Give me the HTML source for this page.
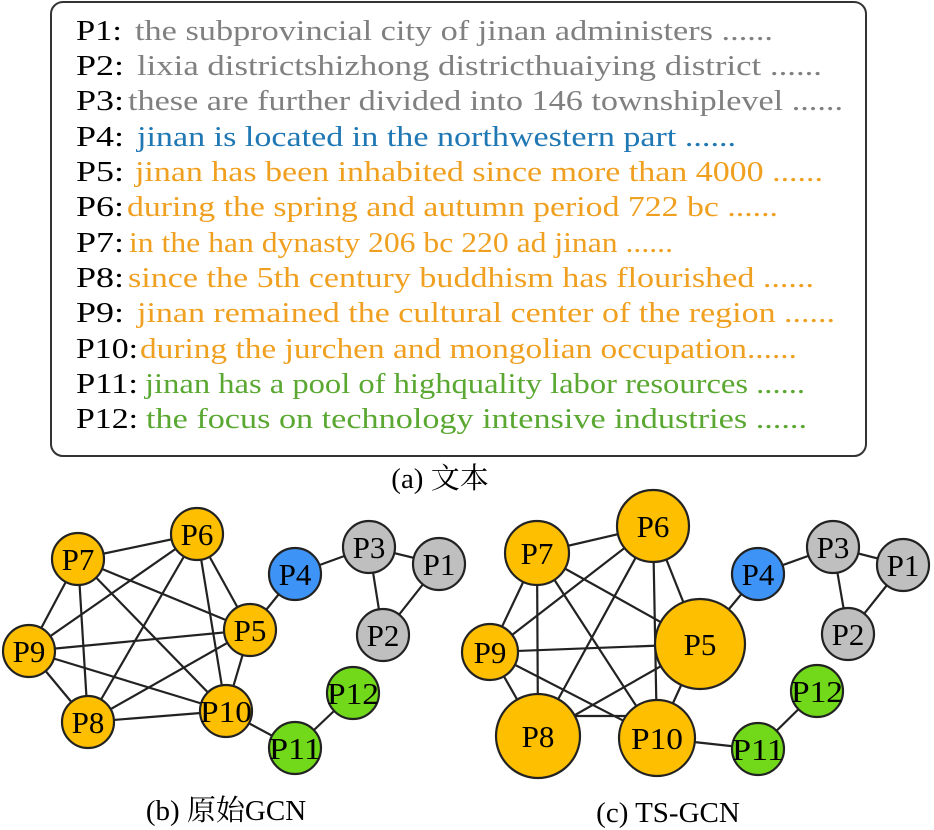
<!DOCTYPE html>
<html><head><meta charset="utf-8"><style>
html,body{margin:0;padding:0;background:#fff;}
svg{display:block;font-family:"Liberation Serif","Noto Serif CJK SC",serif;}
</style></head><body>
<svg width="934" height="830" viewBox="0 0 934 830" xmlns="http://www.w3.org/2000/svg">
<rect x="51" y="2" width="815" height="454" rx="12" ry="12" fill="#fff" stroke="#333" stroke-width="2"/>
<g font-size="29">
<text x="76" y="40" textLength="46" lengthAdjust="spacingAndGlyphs">P1:</text><text x="135" y="40" fill="#808080" textLength="638" lengthAdjust="spacingAndGlyphs">the subprovincial city of jinan administers ......</text>
<text x="76" y="75" textLength="48" lengthAdjust="spacingAndGlyphs">P2:</text><text x="137" y="75" fill="#808080" textLength="685" lengthAdjust="spacingAndGlyphs">lixia districtshizhong districthuaiying district ......</text>
<text x="76" y="110" textLength="48" lengthAdjust="spacingAndGlyphs">P3:</text><text x="128" y="110" fill="#808080" textLength="715" lengthAdjust="spacingAndGlyphs">these are further divided into 146 townshiplevel ......</text>
<text x="76" y="146" textLength="48" lengthAdjust="spacingAndGlyphs">P4:</text><text x="137" y="146" fill="#1f77b4" textLength="599" lengthAdjust="spacingAndGlyphs">jinan is located in the northwestern part ......</text>
<text x="76" y="181" textLength="48" lengthAdjust="spacingAndGlyphs">P5:</text><text x="135" y="181" fill="#f0a020" textLength="688" lengthAdjust="spacingAndGlyphs">jinan has been inhabited since more than 4000 ......</text>
<text x="76" y="216" textLength="48" lengthAdjust="spacingAndGlyphs">P6:</text><text x="127" y="216" fill="#f0a020" textLength="651" lengthAdjust="spacingAndGlyphs">during the spring and autumn period 722 bc ......</text>
<text x="76" y="252" textLength="48" lengthAdjust="spacingAndGlyphs">P7:</text><text x="129" y="252" fill="#f0a020" textLength="544" lengthAdjust="spacingAndGlyphs">in the han dynasty 206 bc 220 ad jinan ......</text>
<text x="76" y="287" textLength="48" lengthAdjust="spacingAndGlyphs">P8:</text><text x="128" y="287" fill="#f0a020" textLength="686" lengthAdjust="spacingAndGlyphs">since the 5th century buddhism has flourished ......</text>
<text x="76" y="322" textLength="48" lengthAdjust="spacingAndGlyphs">P9:</text><text x="137" y="322" fill="#f0a020" textLength="698" lengthAdjust="spacingAndGlyphs">jinan remained the cultural center of the region ......</text>
<text x="76" y="358" textLength="62" lengthAdjust="spacingAndGlyphs">P10:</text><text x="140" y="358" fill="#f0a020" textLength="657" lengthAdjust="spacingAndGlyphs">during the jurchen and mongolian occupation......</text>
<text x="76" y="393" textLength="62" lengthAdjust="spacingAndGlyphs">P11:</text><text x="145" y="393" fill="#5aa832" textLength="660" lengthAdjust="spacingAndGlyphs">jinan has a pool of highquality labor resources ......</text>
<text x="76" y="428" textLength="62" lengthAdjust="spacingAndGlyphs">P12:</text><text x="146" y="428" fill="#5aa832" textLength="661" lengthAdjust="spacingAndGlyphs">the focus on technology intensive industries ......</text>
</g>
<text x="440" y="488" font-size="29" text-anchor="middle">(a) 文本</text>
<text x="226" y="820" font-size="29" text-anchor="middle">(b) 原始GCN</text>
<text x="668" y="822" font-size="29" text-anchor="middle">(c) TS-GCN</text>

<!-- graph b -->
<g stroke="#222" stroke-width="2.2">
<line x1="78" y1="559" x2="197" y2="534"/><line x1="78" y1="559" x2="29" y2="651"/>
<line x1="78" y1="559" x2="88" y2="722"/><line x1="78" y1="559" x2="250" y2="630"/>
<line x1="78" y1="559" x2="226" y2="711"/><line x1="197" y1="534" x2="29" y2="651"/>
<line x1="197" y1="534" x2="88" y2="722"/><line x1="197" y1="534" x2="226" y2="711"/>
<line x1="197" y1="534" x2="250" y2="630"/><line x1="29" y1="651" x2="250" y2="630"/>
<line x1="29" y1="651" x2="226" y2="711"/><line x1="29" y1="651" x2="88" y2="722"/>
<line x1="88" y1="722" x2="250" y2="630"/><line x1="88" y1="722" x2="226" y2="711"/>
<line x1="250" y1="630" x2="226" y2="711"/><line x1="250" y1="630" x2="295" y2="574"/>
<line x1="295" y1="574" x2="369" y2="547"/><line x1="369" y1="547" x2="439" y2="564"/>
<line x1="369" y1="547" x2="383" y2="635"/><line x1="439" y1="564" x2="383" y2="635"/>
<line x1="226" y1="711" x2="295" y2="748"/><line x1="295" y1="748" x2="353" y2="693"/>
</g>
<g stroke="#222" stroke-width="2.2" font-size="31" text-anchor="middle">
<circle cx="78" cy="559" r="26" fill="#fdbf00"/><circle cx="197" cy="534" r="26" fill="#fdbf00"/>
<circle cx="29" cy="651" r="26" fill="#fdbf00"/><circle cx="88" cy="722" r="26" fill="#fdbf00"/>
<circle cx="250" cy="630" r="26" fill="#fdbf00"/><circle cx="226" cy="711" r="26" fill="#fdbf00"/>
<circle cx="295" cy="574" r="26" fill="#3d94f6"/><circle cx="369" cy="547" r="26" fill="#bfbfbf"/>
<circle cx="439" cy="564" r="26" fill="#bfbfbf"/><circle cx="383" cy="635" r="26" fill="#bfbfbf"/>
<circle cx="295" cy="748" r="26" fill="#72d91a"/><circle cx="353" cy="693" r="26" fill="#72d91a"/>
<g stroke="none" fill="#000">
<text x="78" y="570">P7</text><text x="197" y="545">P6</text><text x="29" y="662">P9</text>
<text x="88" y="733">P8</text><text x="250" y="641">P5</text><text x="226" y="722" textLength="52" lengthAdjust="spacingAndGlyphs">P10</text>
<text x="295" y="585">P4</text><text x="369" y="558">P3</text><text x="439" y="575">P1</text>
<text x="383" y="646">P2</text><text x="295" y="759" textLength="52" lengthAdjust="spacingAndGlyphs">P11</text><text x="353" y="704" textLength="52" lengthAdjust="spacingAndGlyphs">P12</text>
</g></g>

<!-- graph c -->
<g stroke="#222" stroke-width="2.2">
<line x1="537" y1="553" x2="653" y2="526"/><line x1="537" y1="553" x2="490" y2="652"/>
<line x1="537" y1="553" x2="538" y2="736"/><line x1="537" y1="553" x2="700" y2="644"/>
<line x1="537" y1="553" x2="657" y2="738"/><line x1="653" y1="526" x2="490" y2="652"/>
<line x1="653" y1="526" x2="538" y2="736"/><line x1="653" y1="526" x2="657" y2="738"/>
<line x1="653" y1="526" x2="700" y2="644"/><line x1="490" y1="652" x2="700" y2="644"/>
<line x1="490" y1="652" x2="657" y2="738"/><line x1="490" y1="652" x2="538" y2="736"/>
<line x1="538" y1="736" x2="700" y2="644"/><line x1="538" y1="716" x2="657" y2="716"/>
<line x1="700" y1="644" x2="657" y2="738"/><line x1="700" y1="644" x2="758" y2="574"/>
<line x1="758" y1="574" x2="833" y2="547"/><line x1="833" y1="547" x2="903" y2="565"/>
<line x1="833" y1="547" x2="848" y2="634"/><line x1="903" y1="565" x2="848" y2="634"/>
<line x1="657" y1="738" x2="758" y2="749"/><line x1="758" y1="749" x2="817" y2="691"/>
</g>
<g stroke="#222" stroke-width="2.2" font-size="31" text-anchor="middle">
<circle cx="537" cy="553" r="32" fill="#fdbf00"/><circle cx="653" cy="526" r="36" fill="#fdbf00"/>
<circle cx="490" cy="652" r="28" fill="#fdbf00"/><circle cx="538" cy="736" r="42" fill="#fdbf00"/>
<circle cx="700" cy="644" r="45" fill="#fdbf00"/><circle cx="657" cy="738" r="38" fill="#fdbf00"/>
<circle cx="758" cy="574" r="26" fill="#3d94f6"/><circle cx="833" cy="547" r="26" fill="#bfbfbf"/>
<circle cx="903" cy="565" r="26" fill="#bfbfbf"/><circle cx="848" cy="634" r="26" fill="#bfbfbf"/>
<circle cx="758" cy="749" r="26" fill="#72d91a"/><circle cx="817" cy="691" r="26" fill="#72d91a"/>
<g stroke="none" fill="#000">
<text x="537" y="564">P7</text><text x="653" y="537">P6</text><text x="490" y="663">P9</text>
<text x="538" y="747">P8</text><text x="700" y="655">P5</text><text x="657" y="749" textLength="52" lengthAdjust="spacingAndGlyphs">P10</text>
<text x="758" y="585">P4</text><text x="833" y="558">P3</text><text x="903" y="576">P1</text>
<text x="848" y="645">P2</text><text x="758" y="760" textLength="52" lengthAdjust="spacingAndGlyphs">P11</text><text x="817" y="702" textLength="52" lengthAdjust="spacingAndGlyphs">P12</text>
</g></g>
</svg>
</body></html>
